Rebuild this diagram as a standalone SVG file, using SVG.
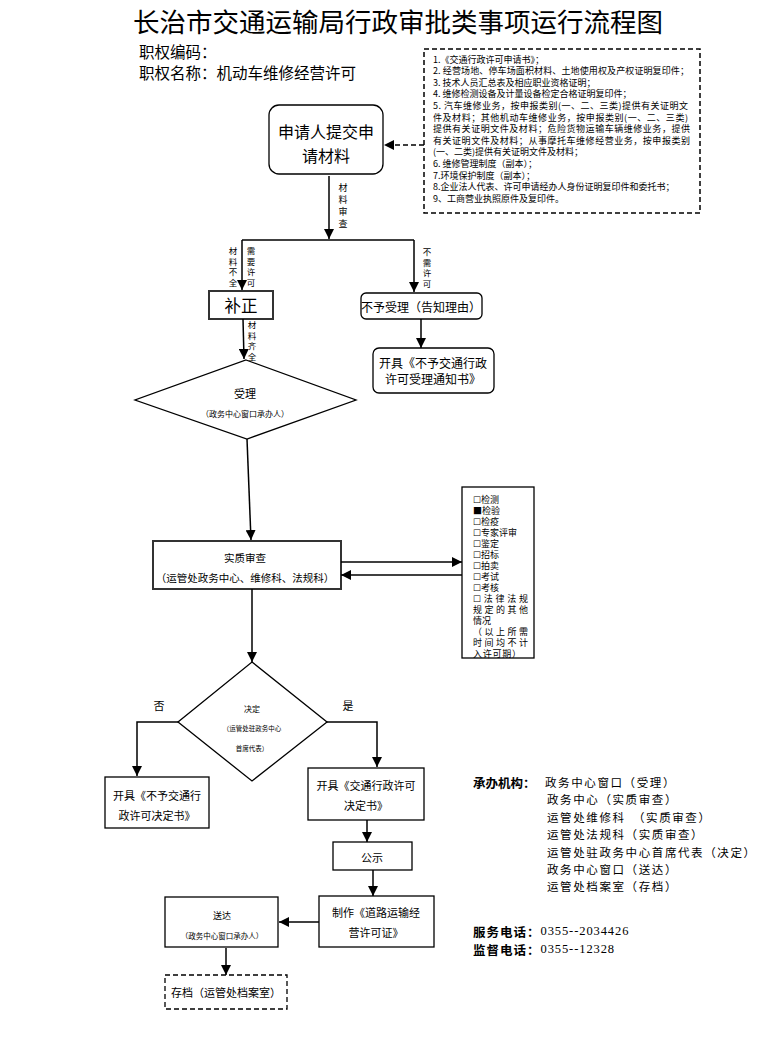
<svg xmlns="http://www.w3.org/2000/svg" width="768" height="1062" viewBox="0 0 768 1062">
<style>
text { font-family: "Noto Sans CJK SC", "Noto Sans CJK JP", sans-serif; fill: #000; dominant-baseline: central; }
.c { text-anchor: middle; }
.box { fill: #fff; stroke: #000; stroke-width: 1.3; }
.thick { fill: #fff; stroke: #333; stroke-width: 2; }
.ln { stroke: #000; stroke-width: 1.5; fill: none; }
.arr { marker-end: url(#ah); }
.dash { stroke-dasharray: 5 3; }
.num { font-family: "Liberation Serif", "Noto Sans CJK SC", serif; }
</style>
<defs>
<marker id="ah" markerUnits="userSpaceOnUse" markerWidth="10" markerHeight="10" viewBox="0 0 10 10" refX="10" refY="5" orient="auto">
<path d="M0,0 L10,5 L0,10 z" fill="#000"/>
</marker>
</defs>
<rect width="768" height="1062" fill="#fff"/>

<g id="header">
<text x="398" y="20" class="c" font-size="26.5">长治市交通运输局行政审批类事项运行流程图</text>
<text x="139" y="51" font-size="15.5">职权编码：</text>
<text x="139" y="72" font-size="15.5">职权名称：机动车维修经营许可</text>
</g>

<g id="materials">
<rect x="424" y="49" width="276" height="164" fill="#fff" stroke="#000" stroke-width="1.5" stroke-dasharray="5 3"/>
<g font-size="9">
<text x="433" y="59">1.《交通行政许可申请书》；</text>
<text x="433" y="70.6" textLength="256" lengthAdjust="spacing">2. 经营场地、停车场面积材料、土地使用权及产权证明复印件；</text>
<text x="433" y="82.2">3. 技术人员汇总表及相应职业资格证明；</text>
<text x="433" y="93.8">4. 维修检测设备及计量设备检定合格证明复印件；</text>
<text x="433" y="105.4" textLength="255" lengthAdjust="spacing">5. 汽车维修业务，按申报类别(一、二、三类)提供有关证明文</text>
<text x="433" y="117" textLength="255" lengthAdjust="spacing">件及材料；其他机动车维修业务，按申报类别(一、二、三类)</text>
<text x="433" y="128.6" textLength="257" lengthAdjust="spacing">提供有关证明文件及材料；危险货物运输车辆维修业务，提供</text>
<text x="433" y="140.2" textLength="257" lengthAdjust="spacing">有关证明文件及材料；从事摩托车维修经营业务，按申报类别</text>
<text x="433" y="151.8">(一、二类)提供有关证明文件及材料；</text>
<text x="433" y="163.4">6. 维修管理制度（副本）；</text>
<text x="433" y="175">7.环境保护制度（副本）；</text>
<text x="433" y="186.6">8.企业法人代表、许可申请经办人身份证明复印件和委托书；</text>
<text x="433" y="198.2">9、工商营业执照原件及复印件。</text>
</g>
</g>

<g id="apply">
<rect x="269" y="105" width="114" height="69" rx="10" class="box"/>
<text x="326" y="131" class="c" font-size="16">申请人提交申</text>
<text x="326" y="155" class="c" font-size="16">请材料</text>
</g>

<g id="buzheng">
<rect x="209" y="291" width="64" height="28" class="thick"/>
<text x="241" y="305" class="c" font-size="16.5">补正</text>
</g>

<g id="buyu">
<rect x="361" y="293" width="121" height="26" rx="5" class="box"/>
<text x="421" y="306" class="c" font-size="12">不予受理（告知理由）</text>
</g>

<g id="buyu-notice">
<rect x="373" y="348" width="121" height="45" rx="6" class="box"/>
<text x="433" y="362" class="c" font-size="12">开具《不予交通行政</text>
<text x="433" y="378" class="c" font-size="12">许可受理通知书》</text>
</g>

<g id="shouli">
<polygon points="246,360 356,400 247,439 135,400" class="box"/>
<text x="245" y="393" class="c" font-size="11">受理</text>
<text x="245" y="413" class="c" font-size="8">（政务中心窗口承办人）</text>
</g>

<g id="shenzha">
<rect x="153" y="541" width="188" height="48" class="thick"/>
<text x="245" y="557" class="c" font-size="10.5">实质审查</text>
<text x="245" y="577" class="c" font-size="10.5">（运管处政务中心、维修科、法规科）</text>
</g>

<g id="checklist">
<rect x="462" y="487" width="72" height="171" class="box"/>
<g font-size="9">
<text x="473" y="499">☐检测</text>
<text x="473" y="510">■检验</text>
<text x="473" y="521">☐检疫</text>
<text x="473" y="532">☐专家评审</text>
<text x="473" y="543">☐鉴定</text>
<text x="473" y="554">☐招标</text>
<text x="473" y="565">☐拍卖</text>
<text x="473" y="576">☐考试</text>
<text x="473" y="587">☐考核</text>
<text x="473" y="598" textLength="55" lengthAdjust="spacing">☐法律法规</text>
<text x="473" y="609" textLength="55" lengthAdjust="spacing">规定的其他</text>
<text x="473" y="620">情况</text>
<text x="473" y="631" textLength="55" lengthAdjust="spacing">（以上所需</text>
<text x="473" y="642" textLength="55" lengthAdjust="spacing">时间均不计</text>
<text x="473" y="653" textLength="48" lengthAdjust="spacing">入许可期）</text>
</g>
</g>

<g id="jueding">
<polygon points="252,662 327,722 252,781 178,722" class="box"/>
<text x="252" y="708" class="c" font-size="8">决定</text>
<text x="252" y="728" class="c" font-size="6.5">（运管处驻政务中心</text>
<text x="252" y="748" class="c" font-size="6.5">首席代表）</text>
</g>

<g id="no-decision">
<rect x="105" y="777" width="104" height="51" class="box"/>
<text x="157" y="795" class="c" font-size="11">开具《不予交通行</text>
<text x="157" y="815" class="c" font-size="11">政许可决定书》</text>
</g>

<g id="yes-decision">
<rect x="308" y="768" width="116" height="52" class="box"/>
<text x="366" y="785" class="c" font-size="11">开具《交通行政许可</text>
<text x="366" y="805" class="c" font-size="11">决定书》</text>
</g>

<g id="gongshi">
<rect x="333" y="842" width="79" height="28" class="box"/>
<text x="372" y="857" class="c" font-size="11">公示</text>
</g>

<g id="zhizuo">
<rect x="319" y="896" width="115" height="51" class="box"/>
<text x="376" y="912" class="c" font-size="11">制作《道路运输经</text>
<text x="376" y="932" class="c" font-size="11">营许可证》</text>
</g>

<g id="songda">
<rect x="165" y="897" width="113" height="50" class="box"/>
<text x="222" y="915" class="c" font-size="9">送达</text>
<text x="222" y="935" class="c" font-size="7.5">（政务中心窗口承办人）</text>
</g>

<g id="cundang">
<rect x="165" y="975" width="122" height="34" class="box dash"/>
<text x="226" y="992" class="c" font-size="11">存档（运管处档案室）</text>
</g>

<g id="connectors">
<line x1="424" y1="145" x2="384" y2="145" class="ln arr dash"/>
<line x1="329" y1="176" x2="329" y2="239" class="ln arr"/>
<line x1="242" y1="240" x2="414" y2="240" class="ln"/>
<line x1="242" y1="240" x2="242" y2="290" class="ln arr"/>
<line x1="414" y1="240" x2="414" y2="292" class="ln arr"/>
<line x1="243" y1="319" x2="244" y2="359" class="ln arr"/>
<line x1="421" y1="319" x2="421" y2="348" class="ln arr"/>
<line x1="247" y1="439" x2="251" y2="540" class="ln arr"/>
<line x1="341" y1="562" x2="462" y2="562" class="ln arr"/>
<line x1="462" y1="575" x2="341" y2="575" class="ln arr"/>
<line x1="252" y1="589" x2="252" y2="662" class="ln arr"/>
<polyline points="178,722 137,722 137,776" class="ln arr"/>
<polyline points="327,722 377,722 377,767" class="ln arr"/>
<line x1="367" y1="820" x2="367" y2="842" class="ln arr"/>
<line x1="373" y1="870" x2="373" y2="896" class="ln arr"/>
<line x1="319" y1="922" x2="279" y2="922" class="ln arr"/>
<line x1="226" y1="948" x2="226" y2="975" class="ln arr"/>
</g>

<g id="labels" font-size="8.5">
<text class="c" font-size="9"><tspan x="343" y="187">材</tspan><tspan x="343" y="199">料</tspan><tspan x="343" y="211">审</tspan><tspan x="343" y="223">查</tspan></text>
<text class="c"><tspan x="233" y="250">材</tspan><tspan x="233" y="260.5">料</tspan><tspan x="233" y="271">不</tspan><tspan x="233" y="281.5">全</tspan></text>
<text class="c"><tspan x="251" y="250">需</tspan><tspan x="251" y="260.5">要</tspan><tspan x="251" y="271">许</tspan><tspan x="251" y="281.5">可</tspan></text>
<text class="c"><tspan x="427" y="251">不</tspan><tspan x="427" y="261.5">需</tspan><tspan x="427" y="272">许</tspan><tspan x="427" y="282.5">可</tspan></text>
<text class="c"><tspan x="252" y="324">材</tspan><tspan x="252" y="334.5">料</tspan><tspan x="252" y="345">齐</tspan><tspan x="252" y="355.5">全</tspan></text>
<text x="159" y="705" class="c" font-size="11">否</text>
<text x="348" y="705" class="c" font-size="11">是</text>
</g>

<g id="info">
<text x="473" y="782" font-size="12.5" font-weight="bold">承办机构：</text>
<g font-size="11.5" letter-spacing="1.6">
<text x="545" y="782">政务中心窗口（受理）</text>
<text x="547" y="799">政务中心（实质审查）</text>
<text x="547" y="817">运管处维修科　（实质审查）</text>
<text x="547" y="834">运管处法规科（实质审查）</text>
<text x="547" y="852">运管处驻政务中心首席代表（决定）</text>
<text x="547" y="869">政务中心窗口（送达）</text>
<text x="547" y="886">运管处档案室（存档）</text>
</g>
<text x="473" y="931" font-size="12.5"><tspan font-weight="bold" letter-spacing="1">服务电话：</tspan><tspan class="num" font-size="12.5" letter-spacing="0.9">0355--2034426</tspan></text>
<text x="473" y="949" font-size="12.5"><tspan font-weight="bold" letter-spacing="1">监督电话：</tspan><tspan class="num" font-size="12.5" letter-spacing="0.9">0355--12328</tspan></text>
</g>
</svg>
